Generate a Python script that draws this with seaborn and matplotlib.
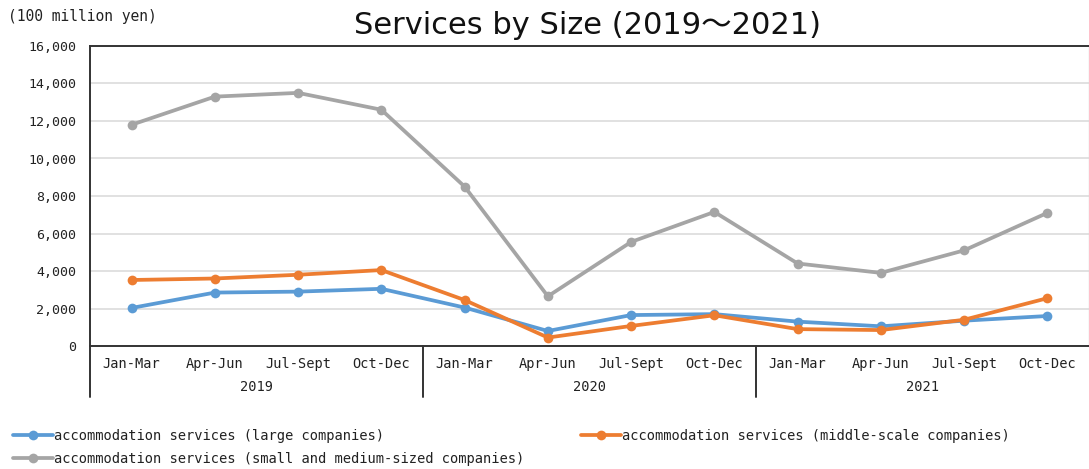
import matplotlib
matplotlib.use("Agg")
import matplotlib.pyplot as plt
import matplotlib.transforms as mtransforms
from matplotlib.lines import Line2D
import seaborn as sns
import pandas as pd

# Quarterly sales, 100 million yen
quarters = ["Jan-Mar", "Apr-Jun", "Jul-Sept", "Oct-Dec"] * 3
years = ["2019", "2020", "2021"]
large = [2030, 2850, 2900, 3050, 2050, 800, 1650, 1700, 1300, 1050, 1350, 1600]
middle = [3520, 3600, 3800, 4050, 2450, 450, 1070, 1640, 900, 850, 1400, 2550]
small_medium = [11800, 13300, 13500, 12600, 8500, 2650, 5550, 7150, 4400, 3900, 5100, 7100]

series_names = [
    "accommodation services (large companies)",
    "accommodation services (middle-scale companies)",
    "accommodation services (small and medium-sized companies)",
]
colors = ["#5B9BD5", "#ED7D31", "#A5A5A5"]

rows = []
for name, vals in zip(series_names, [large, middle, small_medium]):
    for i, v in enumerate(vals):
        rows.append({"idx": i, "value": v, "series": name})
df = pd.DataFrame(rows)

sns.set_theme(style="white")
plt.rcParams["font.family"] = ["DejaVu Sans", "Noto Sans CJK JP"]
mono = ["DejaVu Sans Mono", "Noto Sans CJK JP"]
text_color = "#222222"

fig = plt.figure(figsize=(10.89, 4.69), dpi=100)
ax = fig.add_axes([90 / 1089, 123 / 469, 999 / 1089, 300 / 469])

sns.lineplot(
    data=df, x="idx", y="value", hue="series", hue_order=series_names,
    palette=colors, marker="o", markersize=7, markeredgewidth=0,
    linewidth=2.7, legend=False, ax=ax,
)

ax.set_xlim(-0.5, 11.5)
ax.set_ylim(0, 16000)
ax.set_yticks(range(0, 16001, 2000))
ax.set_yticklabels([f"{v:,}" for v in range(0, 16001, 2000)],
                   family=mono, fontsize=9.5, color=text_color)
ax.set_xticks(range(12))
ax.set_xticklabels(quarters, family=mono, fontsize=9.8, color=text_color)
ax.tick_params(axis="y", length=0, pad=10)
ax.tick_params(axis="x", length=0, pad=8)
ax.set_xlabel("")
ax.set_ylabel("")
ax.yaxis.grid(True, color="#D9D9D9", linewidth=1.1)
ax.xaxis.grid(False)

for side in ["left", "bottom", "top"]:
    ax.spines[side].set_color("#333333")
    ax.spines[side].set_linewidth(1.4)
ax.spines["right"].set_color("#D9D9D9")
ax.spines["right"].set_linewidth(1.0)

# Year row beneath the quarter labels, with group separators
trans = mtransforms.blended_transform_factory(ax.transData, ax.transAxes)
for g, yr in enumerate(years):
    ax.text(g * 4 + 1.5, -0.137, yr, transform=trans, ha="center", va="center",
            family=mono, fontsize=9.8, color=text_color)
for xsep in [-0.5, 3.5, 7.5]:
    ax.add_line(Line2D([xsep, xsep], [0, -0.17], transform=trans,
                       color="#333333", linewidth=1.4, clip_on=False))

fig.text(587 / 1089, 1 - 25 / 469, "Services by Size (2019\uff5e2021)",
         ha="center", va="center", fontsize=22, color="#111111",
         family=["DejaVu Sans", "Noto Sans CJK JP"])
fig.text(8 / 1089, 1 - 17 / 469, "(100 million yen)", ha="left", va="center",
         family=mono, fontsize=10.5, color=text_color)

def handle(c):
    return Line2D([], [], color=c, linewidth=2.7, marker="o", markersize=7,
                  markeredgewidth=0)

legend_kw = dict(frameon=False, handlelength=2.9, handletextpad=0.1,
                 prop={"family": mono, "size": 9.9}, labelcolor=text_color,
                 borderaxespad=0, borderpad=0, labelspacing=0.65)
leg1 = fig.legend([handle(colors[0]), handle(colors[2])],
                  [series_names[0], series_names[2]],
                  loc="upper left", bbox_to_anchor=(13 / 1089, 1 - 429 / 469),
                  **legend_kw)
leg2 = fig.legend([handle(colors[1])], [series_names[1]],
                  loc="upper left", bbox_to_anchor=(581 / 1089, 1 - 429 / 469),
                  **legend_kw)

fig.savefig("out.png", dpi=100)
